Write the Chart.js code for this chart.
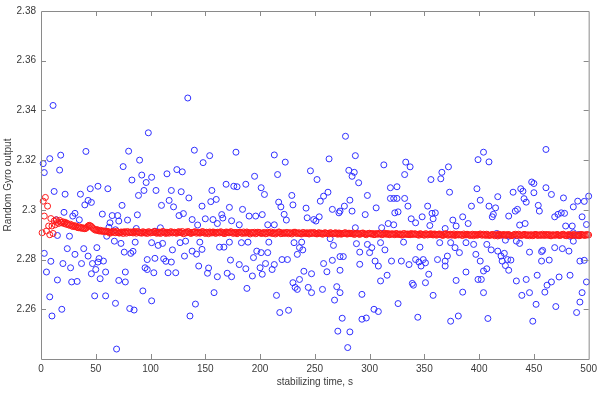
<!DOCTYPE html>
<html>
<head>
<meta charset="utf-8">
<script src="https://cdn.jsdelivr.net/npm/chart.js@4"></script>
<style>
html,body{margin:0;padding:0;background:#fff;}
#wrap{width:601px;height:401px;}
</style>
</head>
<body>
<div id="wrap"><canvas id="c" width="601" height="401"></canvas></div>
<script>
// ---- Data ----
const xTicks = [0,50,100,150,200,250,300,350,400,450,500];
const yTicks = [2.24,2.26,2.28,2.3,2.32,2.34,2.36,2.38];

// Random gyro output (blue circles): time, value
const blueT = [
11,98,41,80,2,8,18,3,17,75,90,83,92,96,94,89,12,22,45,52,61,36,43,46,40,74,21,31,29,56,65,70,88,14,35,71,63,79,62,68,87,15,26,60,67,73,86,24,51,39,31,43,3,76,84,82,53,57,52,97,95,97,9,20,37,27,47,50,46,59,54,77,5,15,28,33,71,77,93,8,49,59,101,68,19,10,81,85,69,
134,140,148,154,178,101,115,124,129,195,105,119,128,135,156,169,176,179,187,201,117,110,121,155,160,147,172,184,126,130,138,143,150,157,165,166,161,174,181,190,196,109,104,101,111,107,127,132,145,163,167,172,183,189,120,138,142,147,131,104,112,114,119,197,194,173,181,187,200,103,116,123,144,153,152,161,170,174,193,158,188,141,136,
278,213,223,263,287,216,246,252,281,286,284,290,204,229,230,217,219,222,224,262,258,255,242,243,249,254,251,266,272,277,282,284,273,298,296,207,213,202,287,264,267,208,207,231,238,236,234,239,288,291,298,300,220,225,201,273,276,258,261,266,273,291,205,213,211,202,240,247,230,232,234,236,244,247,257,270,273,268,293,215,218,226,275,293,297,271,282,280,
404,399,313,333,337,332,372,366,365,356,319,325,319,322,325,332,373,398,401,393,306,335,323,326,353,357,360,358,355,348,338,342,317,311,322,376,385,390,379,369,302,310,314,331,346,364,374,378,382,388,395,397,305,308,320,329,336,342,345,349,351,347,362,369,371,369,401,404,402,354,351,316,310,339,340,379,388,399,358,385,326,304,308,344,374,381,404,
461,409,438,448,450,461,466,450,417,409,415,413,412,427,433,435,431,440,441,443,454,455,437,442,469,472,475,478,477,486,490,496,500,494,498,479,485,424,427,434,437,416,418,486,483,486,491,407,411,417,423,420,421,426,429,424,427,446,458,457,469,476,482,457,464,492,496,407,434,443,453,466,462,473,483,439,446,460,452,470,498,494,492,489,408,449
];
const blueV = [
2.342,2.331,2.3235,2.3236,2.3186,2.3206,2.322,2.315,2.316,2.3174,2.32,2.312,2.314,2.311,2.3078,2.3058,2.3074,2.3063,2.3085,2.3095,2.3085,2.3063,2.3038,2.303,2.302,2.3018,2.299,2.2986,2.2975,2.2983,2.2977,2.2977,2.298,2.296,2.296,2.2955,2.2948,2.2959,2.293,2.292,2.2925,2.2897,2.2894,2.2894,2.2874,2.2865,2.287,2.2844,2.2848,2.2844,2.2821,2.2814,2.2825,2.283,2.2833,2.2825,2.2804,2.2794,2.279,2.28,2.2767,2.276,2.2793,2.2784,2.2784,2.2767,2.2784,2.276,2.2743,2.275,2.2723,2.275,2.275,2.2718,2.271,2.2712,2.2716,2.271,2.2674,2.265,2.2654,2.2654,2.2634,2.2624,2.26,2.2573,2.2603,2.2597,2.244,
2.345,2.324,2.319,2.3218,2.3232,2.3131,2.3145,2.3162,2.3153,2.3135,2.3078,2.3078,2.3073,2.3048,2.3078,2.3103,2.3095,2.3093,2.3103,2.3089,2.3038,2.3018,2.3012,2.3033,2.3042,2.3015,2.301,2.3002,2.2977,2.2985,2.2961,2.2939,2.2964,2.2961,2.2981,2.2967,2.2945,2.2956,2.294,2.2975,2.2975,2.2928,2.2914,2.2868,2.2865,2.2857,2.2868,2.2874,2.287,2.285,2.285,2.287,2.2868,2.287,2.2839,2.2834,2.2822,2.2841,2.2814,2.2805,2.2803,2.2793,2.279,2.2834,2.2808,2.2798,2.278,2.2763,2.2767,2.2747,2.2747,2.2747,2.2774,2.2766,2.2745,2.2731,2.2745,2.2731,2.2734,2.2667,2.2684,2.2621,2.2573,
2.3296,2.3221,2.3192,2.3205,2.3218,2.3142,2.3157,2.3122,2.3159,2.3151,2.3135,2.3109,2.3062,2.3058,2.302,2.3031,2.3012,2.2982,2.2959,2.3071,2.3055,2.3035,2.3007,2.2968,2.2961,2.2972,2.2955,2.3002,2.2988,2.3015,2.3039,2.2995,2.2995,2.3058,2.2981,2.294,2.294,2.2981,2.2928,2.2884,2.2857,2.287,2.2828,2.2868,2.287,2.2848,2.2821,2.2839,2.2864,2.283,2.2861,2.2828,2.28,2.28,2.2828,2.2812,2.2812,2.2784,2.2751,2.2797,2.2757,2.2781,2.2784,2.278,2.276,2.2741,2.2753,2.2743,2.2707,2.2688,2.268,2.272,2.2688,2.2667,2.268,2.2691,2.2667,2.2637,2.266,2.2656,2.2587,2.2596,2.2564,2.256,2.2565,2.2512,2.2509,2.2446,
2.3232,2.3202,2.3181,2.3192,2.3173,2.3142,2.3173,2.3151,2.3125,2.3122,2.3089,2.3093,2.3046,2.3046,2.3046,2.3046,2.3071,2.3085,2.3039,2.3015,2.3008,2.3015,2.2988,2.2992,2.3015,2.2986,2.2988,2.2964,2.2937,2.2972,2.2964,2.2948,2.2945,2.2928,2.294,2.2959,2.2972,2.2945,2.2935,2.2925,2.2848,2.2868,2.2839,2.287,2.285,2.2868,2.2868,2.2848,2.2828,2.2868,2.2861,2.2821,2.2794,2.2774,2.2794,2.2794,2.278,2.28,2.279,2.28,2.2787,2.2774,2.28,2.2794,2.2814,2.2774,2.2794,2.2754,2.272,2.2741,2.2707,2.2737,2.2714,2.2704,2.2697,2.2716,2.275,2.272,2.2656,2.2669,2.2623,2.26,2.2591,2.2568,2.2552,2.2573,2.2667,
2.3243,2.3193,2.3085,2.3112,2.3106,2.3089,2.3062,2.3069,2.3053,2.3015,2.3008,2.2982,2.2972,2.2975,2.2995,2.3002,2.3071,2.3075,2.3045,2.3031,2.3018,2.2995,2.2939,2.2945,2.2972,2.2982,2.2988,2.2986,2.3048,2.3012,2.3035,2.3034,2.3055,2.2972,2.2941,2.2935,2.2935,2.2878,2.2894,2.2874,2.2865,2.2905,2.2897,2.2908,2.2894,2.2874,2.2901,2.2861,2.2839,2.2834,2.2825,2.2814,2.2794,2.28,2.2798,2.2776,2.2757,2.283,2.2837,2.2832,2.2848,2.2844,2.2834,2.2794,2.2798,2.2794,2.2797,2.2763,2.2714,2.272,2.2737,2.271,2.2697,2.273,2.2737,2.2656,2.2667,2.2669,2.262,2.2611,2.271,2.2667,2.2629,2.2587,2.2563,2.2552
];

// Stabilized output (red circles)
// seconds 1..60
const redEarly = [
2.2908,2.3035,2.2975,2.3050,2.2915,2.3015,2.2935,2.2900,2.2965,2.2935,
2.2905,2.2955,2.2940,2.2960,2.2950,2.2945,2.2958,2.2950,2.2948,2.2952,
2.2945,2.2950,2.2942,2.2946,2.2940,2.2938,2.2942,2.2936,2.2933,2.2937,
2.2932,2.2935,2.2930,2.2928,2.2932,2.2927,2.2929,2.2925,2.2927,2.2924,
2.2926,2.2930,2.2935,2.2938,2.2936,2.2933,2.2928,2.2924,2.2920,2.2918,
2.2921,2.2917,2.2915,2.2918,2.2914,2.2916,2.2913,2.2915,2.2912,2.2914
];
// even seconds 62..500
const redEven = [
2.2912,2.2909,2.2913,2.2908,2.2911,2.2907,2.2910,2.2912,2.2906,2.2909,
2.2911,2.2907,2.2910,2.2913,2.2908,2.2906,2.2910,2.2909,2.2912,2.2907,
2.2909,2.2913,2.2906,2.2910,2.2908,2.2912,2.2905,2.2909,2.2911,2.2907,
2.2910,2.2906,2.2912,2.2908,2.2904,2.2910,2.2913,2.2907,2.2909,2.2911,
2.2906,2.2910,2.2908,2.2912,2.2905,2.2909,2.2911,2.2907,2.2910,2.2906,
2.2909,2.2912,2.2907,2.2905,2.2910,2.2908,2.2911,2.2906,2.2909,2.2907,
2.2910,2.2905,2.2908,2.2911,2.2906,2.2909,2.2907,2.2904,2.2910,2.2908,
2.2906,2.2909,2.2905,2.2908,2.2911,2.2906,2.2903,2.2908,2.2910,2.2905,
2.2907,2.2909,2.2904,2.2908,2.2906,2.2910,2.2905,2.2907,2.2903,2.2908,
2.2906,2.2904,2.2909,2.2905,2.2907,2.2903,2.2908,2.2906,2.2904,2.2907,
2.2905,2.2908,2.2903,2.2906,2.2904,2.2907,2.2902,2.2905,2.2908,2.2903,
2.2906,2.2904,2.2901,2.2906,2.2903,2.2905,2.2907,2.2902,2.2904,2.2906,
2.2903,2.2900,2.2905,2.2902,2.2904,2.2901,2.2906,2.2903,2.2900,2.2904,
2.2902,2.2905,2.2901,2.2903,2.2899,2.2904,2.2902,2.2900,2.2905,2.2901,
2.2903,2.2900,2.2904,2.2901,2.2898,2.2903,2.2901,2.2904,2.2899,2.2902,
2.2900,2.2903,2.2899,2.2901,2.2904,2.2898,2.2902,2.2900,2.2897,2.2902,
2.2900,2.2898,2.2903,2.2899,2.2901,2.2897,2.2902,2.2900,2.2898,2.2901,
2.2899,2.2902,2.2897,2.2900,2.2898,2.2901,2.2896,2.2900,2.2902,2.2898,
2.2900,2.2897,2.2901,2.2899,2.2896,2.2900,2.2898,2.2902,2.2897,2.2899,
2.2901,2.2898,2.2896,2.2900,2.2898,2.2901,2.2897,2.2899,2.2902,2.2897,
2.2899,2.2901,2.2896,2.2899,2.2898,2.2900,2.2897,2.2901,2.2898,2.2896,
2.2900,2.2898,2.2901,2.2897,2.2899,2.2896,2.2900,2.2898,2.2901,2.2899
];
// odd seconds 61..499
const redOdd = [
2.2911,
2.2906,2.2912,2.2909,2.2914,2.2907,2.2911,2.2905,2.2910,2.2913,2.2908,
2.2909,2.2913,2.2906,2.2911,2.2908,2.2912,2.2907,2.2905,2.2911,2.2909,
2.2912,2.2907,2.2910,2.2905,2.2913,2.2908,2.2910,2.2906,2.2912,2.2909,
2.2907,2.2911,2.2909,2.2913,2.2906,2.2908,2.2911,2.2905,2.2910,2.2912,
2.2909,2.2906,2.2912,2.2908,2.2910,2.2904,2.2909,2.2911,2.2906,2.2910,
2.2907,2.2910,2.2905,2.2911,2.2908,2.2912,2.2906,2.2909,2.2904,2.2910,
2.2907,2.2911,2.2906,2.2909,2.2903,2.2908,2.2910,2.2906,2.2909,2.2905,
2.2908,2.2904,2.2910,2.2907,2.2905,2.2909,2.2906,2.2911,2.2904,2.2908,
2.2905,2.2909,2.2907,2.2903,2.2910,2.2906,2.2908,2.2904,2.2909,2.2905,
2.2908,2.2903,2.2906,2.2909,2.2904,2.2907,2.2905,2.2902,2.2908,2.2905,
2.2903,2.2907,2.2905,2.2908,2.2902,2.2906,2.2904,2.2907,2.2903,2.2906,
2.2904,2.2907,2.2903,2.2905,2.2901,2.2906,2.2904,2.2900,2.2905,2.2903,
2.2905,2.2901,2.2903,2.2906,2.2900,2.2904,2.2902,2.2905,2.2901,2.2903,
2.2900,2.2904,2.2902,2.2899,2.2905,2.2901,2.2903,2.2900,2.2902,2.2904,
2.2901,2.2898,2.2903,2.2900,2.2904,2.2899,2.2902,2.2900,2.2903,2.2898,
2.2902,2.2900,2.2897,2.2903,2.2899,2.2901,2.2898,2.2903,2.2900,2.2899,
2.2901,2.2897,2.2900,2.2902,2.2898,2.2900,2.2896,2.2901,2.2899,2.2903,
2.2898,2.2900,2.2902,2.2897,2.2899,2.2901,2.2898,2.2895,2.2900,2.2899,
2.2901,2.2898,2.2900,2.2896,2.2899,2.2902,2.2897,2.2900,2.2898,2.2901,
2.2897,2.2900,2.2899,2.2896,2.2901,2.2898,2.2900,2.2897,2.2899,2.2901,
2.2898,2.2896,2.2900,2.2898,2.2901,2.2897,2.2899,2.2902,2.2897,2.2900,
2.2899,2.2897,2.2900,2.2898,2.2896,2.2901,2.2899,2.2897,2.2900
];

// ---- Build datasets ----
const blueData = blueT.map((t,i)=>({x:t,y:blueV[i]}));
const redData = redEarly.map((v,i)=>({x:i+1,y:v}))
  .concat(redOdd.map((v,i)=>({x:61+2*i,y:v})))
  .concat(redEven.map((v,i)=>({x:62+2*i,y:v})));

const axisColor = '#8a8a8a';
const textColor = '#3a3a3a';
const fontFam = '"Liberation Sans", Arial, sans-serif';

const boxTicks = {
  id:'boxTicks',
  afterDatasetsDraw(chart){
    const {ctx, chartArea:a, scales:{x,y}} = chart;
    ctx.save();
    ctx.strokeStyle = axisColor;
    ctx.lineWidth = 1;
    ctx.beginPath();
    ctx.rect(a.left+0.5, a.top+0.5, a.right-a.left, a.bottom-a.top);
    ctx.stroke();
    const L = 5;
    ctx.beginPath();
    xTicks.forEach(v=>{
      const px = Math.round(x.getPixelForValue(v))+0.5;
      if (v===xTicks[0] || v===xTicks[xTicks.length-1]) return;
      ctx.moveTo(px, a.bottom); ctx.lineTo(px, a.bottom-L);
      ctx.moveTo(px, a.top); ctx.lineTo(px, a.top+L);
    });
    yTicks.forEach(v=>{
      const py = Math.round(y.getPixelForValue(v))+0.5;
      if (v===yTicks[0] || v===yTicks[yTicks.length-1]) return;
      ctx.moveTo(a.left, py); ctx.lineTo(a.left+L, py);
      ctx.moveTo(a.right, py); ctx.lineTo(a.right-L, py);
    });
    ctx.stroke();
    ctx.restore();
  }
};

new Chart(document.getElementById('c'), {
  type:'scatter',
  data:{
    datasets:[
      {label:'stabilized', data:redData, pointStyle:'circle', pointRadius:3, borderWidth:1,
       borderColor:'#ff1a1a', backgroundColor:'rgba(0,0,0,0)', order:0, clip:6},
      {label:'random', data:blueData, pointStyle:'circle', pointRadius:3, borderWidth:1,
       borderColor:'#3030ff', backgroundColor:'rgba(0,0,0,0)', order:1, clip:6}
    ]
  },
  options:{
    responsive:false,
    animation:false,
    events:[],
    layout:{padding:{top:10,right:9,left:0,bottom:0}},
    plugins:{legend:{display:false}, tooltip:{enabled:false}},
    scales:{
      x:{
        type:'linear', min:0, max:500,
        afterBuildTicks(s){ s.ticks = xTicks.map(v=>({value:v})); },
        afterFit(s){ s.height = 42; },
        grid:{display:false, drawTicks:false},
        border:{display:false},
        ticks:{color:textColor, font:{family:fontFam, size:10}, padding:4, autoSkip:false, maxRotation:0,
               callback:v=>String(v)},
        title:{display:true, text:'stabilizing time, s', color:textColor,
               font:{family:fontFam, size:10}, padding:{top:0,bottom:13}}
      },
      y:{
        type:'linear', min:2.24, max:2.38,
        afterBuildTicks(s){ s.ticks = yTicks.map(v=>({value:v})); },
        afterFit(s){ s.width = 41; },
        grid:{display:false, drawTicks:false},
        border:{display:false},
        ticks:{color:textColor, font:{family:fontFam, size:10}, padding:5, autoSkip:false,
               callback:v=> (Math.abs(v-yTicks[0])<1e-9) ? '' : String(Math.round(v*100)/100)},
        title:{display:true, text:'Random Gyro output', color:textColor,
               font:{family:fontFam, size:10}, padding:{top:2,bottom:0}}
      }
    }
  },
  plugins:[boxTicks]
});
</script>
</body>
</html>
